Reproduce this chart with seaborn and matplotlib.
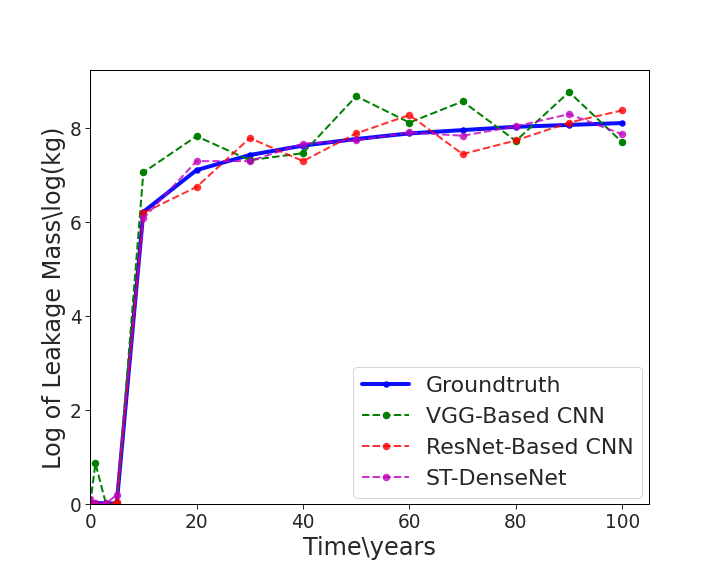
import numpy as np
import pandas as pd
import matplotlib
matplotlib.use('Agg')
import matplotlib.pyplot as plt
import seaborn as sns

years = [0, 1, 3, 5, 10, 20, 30, 40, 50, 60, 70, 80, 90, 100]
groundtruth = [0.04, 0.03, 0.02, 0.02, 6.22, 7.11, 7.43, 7.63, 7.77, 7.89, 7.96, 8.03, 8.07, 8.11]
vgg = [0.0, 0.87, 0.0, 0.0, 7.06, 7.83, 7.32, 7.47, 8.68, 8.12, 8.57, 7.73, 8.77, 7.70]
resnet = [0.0, 0.0, 0.0, 0.04, 6.20, 6.75, 7.79, 7.30, 7.89, 8.28, 7.45, 7.74, 8.12, 8.38]
densenet = [0.12, 0.03, 0.02, 0.2, 6.08, 7.30, 7.30, 7.67, 7.74, 7.91, 7.84, 8.04, 8.30, 7.87]

sns.set_style('white')
plt.rcParams['font.family'] = ['DejaVu Sans']

fig, ax = plt.subplots(figsize=(721 / 72, 577 / 72), dpi=72)
plt.subplots_adjust(left=0.125, right=0.9, top=0.878, bottom=0.126)

sns.lineplot(x=years, y=groundtruth, ax=ax, color='b', linewidth=4, marker='o',
             markersize=6.5, markeredgewidth=0, label='Groundtruth', alpha=0.95)
sns.lineplot(x=years, y=vgg, ax=ax, color='g', linestyle='--', linewidth=2, marker='o',
             markersize=7.5, markeredgewidth=0, label='VGG-Based CNN')
sns.lineplot(x=years, y=resnet, ax=ax, color='r', linestyle='--', linewidth=2, marker='o',
             markersize=7.5, markeredgewidth=0, label='ResNet-Based CNN', alpha=0.8)
sns.lineplot(x=years, y=densenet, ax=ax, color='m', linestyle='--', linewidth=2, marker='o',
             markersize=7.5, markeredgewidth=0, label='ST-DenseNet', alpha=0.8)

ax.set_xlim(0, 105)
ax.set_ylim(0, 9.23)
ax.set_xticks([0, 20, 40, 60, 80, 100])
ax.set_yticks([0, 2, 4, 6, 8])
ax.tick_params(labelsize=18.5, length=5, width=1, direction='out', bottom=True, left=True)
for s in ax.spines.values():
    s.set_color('black')
    s.set_linewidth(1)
ax.set_xlabel('Time\\years', fontsize=24)
ax.set_ylabel('Log of Leakage Mass\\log(kg)', fontsize=24)
ax.yaxis.label.set_y(0.475)
ax.legend(loc='lower right', fontsize=22, labelspacing=0.5, borderpad=0.4,
          handlelength=2.15, handletextpad=0.75, borderaxespad=0.3)

plt.savefig('out.png', dpi=72)
